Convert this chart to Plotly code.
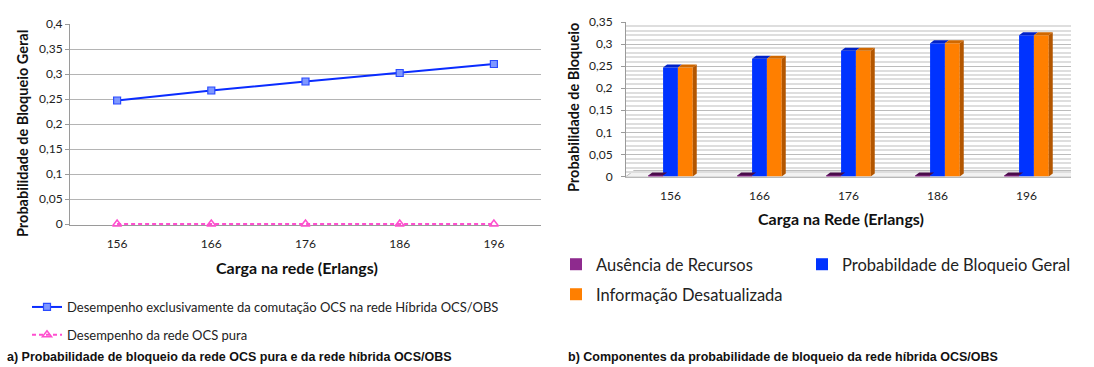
import plotly.graph_objects as go

# Network load (Erlangs)
loads = ["156", "166", "176", "186", "196"]

# (a) Blocking probability
hybrid_ocs = [0.247, 0.267, 0.285, 0.302, 0.320]
pure_ocs = [0.0, 0.0, 0.0, 0.0, 0.0]

# (b) Components of blocking probability in the hybrid network
ausencia = [0.002, 0.002, 0.002, 0.002, 0.002]
bloqueio_geral = [0.247, 0.267, 0.285, 0.302, 0.320]
desatualizada = [0.247, 0.267, 0.285, 0.302, 0.320]

W, H = 1094, 367
BODY = "Lato, 'Open Sans', sans-serif"
CAP = "'Liberation Sans', Arial, sans-serif"

def px_x(p):
    return p / W

def px_y(p):
    return (H - p) / H

fig = go.Figure()

# ---- left panel: line chart ----
fig.add_trace(go.Scatter(
    x=loads, y=hybrid_ocs, mode="lines+markers",
    name="Desempenho exclusivamente da comutação OCS na rede Híbrida OCS/OBS",
    line=dict(color="#0a2cff", width=2),
    marker=dict(symbol="square", size=7, color="#7f98ff",
                line=dict(color="#2a4bff", width=1.2)),
    xaxis="x", yaxis="y", legend="legend", legendgroup="a1",
))
fig.add_trace(go.Scatter(
    x=loads, y=pure_ocs, mode="lines+markers",
    name="Desempenho da rede OCS pura",
    line=dict(color="#ff4fcf", width=2, dash="4px,3px"),
    marker=dict(symbol="triangle-up-open", size=8, color="#ff4fcf",
                line=dict(width=1.5)),
    cliponaxis=False,
    xaxis="x", yaxis="y", legend="legend", legendgroup="a2",
))

# ---- right panel: grouped bars ----
bar_specs = [
    (ausencia, "Ausência de Recursos", "#8e2a8e", "legend2"),
    (bloqueio_geral, "Probabildade de Bloqueio Geral", "#0033ff", "legend3"),
    (desatualizada, "Informação Desatualizada", "#ff7f00", "legend4"),
]
for vals, name, color, lg in bar_specs:
    fig.add_trace(go.Bar(
        x=loads, y=vals, name=name, marker=dict(color=color, line=dict(width=0)),
        xaxis="x2", yaxis="y2", legend=lg,
    ))

# pseudo-3D faces for the bars, built from the bar values
BARGAP = 0.5
bw = (1 - BARGAP) / 3
dx = 4 / 89.0
dy = 3 * 0.35 / 154.0
top_colors = ["#4a0c4a", "#0022c8", "#d06800"]
shapes = []
# floor under the bars
shapes.append(dict(type="path", xref="x2", yref="y2", layer="below",
                   path=f"M -0.5,0 L 4.5,0 L {4.5 + 2*dx},{2*dy} L {-0.5 + 2*dx},{2*dy} Z",
                   fillcolor="#f2f2f2", line=dict(color="#bdbdbd", width=1)))
for k, (vals, _, _, _) in enumerate(bar_specs):
    for i, v in enumerate(vals):
        left = i - (1 - BARGAP) / 2 + k * bw
        right = left + bw
        shapes.append(dict(type="path", xref="x2", yref="y2",
                           path=f"M {left},{v} L {right},{v} L {right+dx},{v+dy} L {left+dx},{v+dy} Z",
                           fillcolor=top_colors[k], line=dict(width=0)))
        if k == 2:
            shapes.append(dict(type="path", xref="x2", yref="y2",
                               path=f"M {right},0 L {right},{v} L {right+dx},{v+dy} L {right+dx},{dy} Z",
                               fillcolor="#b35600", line=dict(width=0)))

axis_font = dict(family=BODY, size=12, color="#222")
xtitle_font = dict(family=BODY, size=16, color="#111", weight="bold")
ytitle_font = dict(family=BODY, size=14.5, color="#111", weight="bold")
legend_common = dict(xanchor="left", yanchor="top", bgcolor="rgba(0,0,0,0)",
                     font=dict(family=BODY, size=16.5, color="#222"))

def label(text, x, y, angle=0, font=xtitle_font):
    return dict(text=text, xref="paper", yref="paper", x=px_x(x), y=px_y(y),
                xanchor="center", yanchor="middle", showarrow=False,
                textangle=angle, font=font)

fig.update_layout(
    width=W, height=H,
    margin=dict(l=0, r=0, t=0, b=0, autoexpand=False),
    paper_bgcolor="white", plot_bgcolor="white",
    separators=", ",
    barmode="group", bargap=BARGAP, bargroupgap=0,
    showlegend=True,
    shapes=shapes,
    xaxis=dict(domain=[px_x(70), px_x(541)], type="category", range=[-0.5, 4.5],
               showgrid=False, showline=True, linecolor="#9a9a9a", linewidth=1,
               layer="below traces", ticklabelstandoff=8,
               ticks="", tickfont=axis_font, anchor="y", fixedrange=True),
    yaxis=dict(domain=[px_y(225), px_y(24)], range=[-0.002, 0.4],
               tickvals=[0, 0.05, 0.1, 0.15, 0.2, 0.25, 0.3, 0.35, 0.4],
               showgrid=True, gridcolor="#b4b4b4", gridwidth=1,
               showline=True, linecolor="#9a9a9a", zeroline=False,
               ticks="outside", ticklen=4, tickcolor="#9a9a9a",
               tickfont=axis_font, tickformat=",.2~f", anchor="x"),
    xaxis2=dict(domain=[px_x(626), px_x(1071)], type="category", range=[-0.5, 4.5],
                showgrid=False, showline=True, linecolor="#b8b8b8",
                layer="below traces", ticklabelstandoff=8,
                ticks="", tickfont=axis_font, anchor="y2"),
    yaxis2=dict(domain=[px_y(176.5), px_y(22)], range=[0, 0.35], dtick=0.05,
                showgrid=True, gridcolor="#bcbcbc", gridwidth=1,
                minor=dict(dtick=0.01, showgrid=True, gridcolor="#dedede", gridwidth=2),
                showline=True, linecolor="#9a9a9a", zeroline=False,
                ticks="outside", ticklen=4, tickcolor="#9a9a9a", ticklabelstandoff=6,
                tickfont=axis_font, tickformat=",.2~f", anchor="x2"),
    legend=dict(x=px_x(27), y=px_y(292), xanchor="left", yanchor="top",
                orientation="v", tracegroupgap=8,
                font=dict(family=BODY, size=13, color="#222"),
                bgcolor="rgba(0,0,0,0)"),
    legend2=dict(x=px_x(556), y=px_y(247), **legend_common),
    legend3=dict(x=px_x(802), y=px_y(247), **legend_common),
    legend4=dict(x=px_x(556), y=px_y(277), **legend_common),
    annotations=[
        label("Probabilidade de Bloqueio Geral", 23, 134, angle=-90, font=ytitle_font),
        label("Carga na rede (Erlangs)", 297, 267),
        label("Probabilidade de Bloqueio", 573, 108, angle=-90, font=ytitle_font),
        label("Carga na Rede (Erlangs)", 841, 218),
        dict(text="<b>a) Probabilidade de bloqueio da rede OCS pura e da rede híbrida OCS/OBS</b>",
             xref="paper", yref="paper", x=px_x(5), y=px_y(357), xanchor="left", yanchor="middle",
             showarrow=False, font=dict(family=CAP, size=12.5, color="#111")),
        dict(text="<b>b) Componentes da probabilidade de bloqueio da rede híbrida OCS/OBS</b>",
             xref="paper", yref="paper", x=px_x(566), y=px_y(357), xanchor="left", yanchor="middle",
             showarrow=False, font=dict(family=CAP, size=12.5, color="#111")),
    ],
)

fig.write_html("out.html")
